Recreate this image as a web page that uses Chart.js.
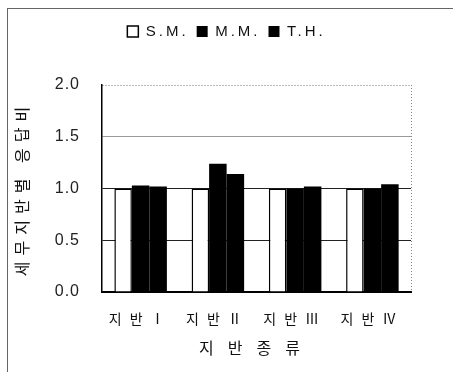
<!DOCTYPE html>
<html lang="ko">
<head>
<meta charset="utf-8">
<title>세무지반별 응답비</title>
<script src="https://cdn.jsdelivr.net/npm/chart.js@4/dist/chart.umd.min.js"></script>
<style>
  html, body { margin: 0; background: #fff; }
  .sheet { position: relative; width: 453px; height: 372px; overflow: hidden; }
  /* page frame: thin rule along top and left */
  .frame { position: absolute; left: 7px; top: 8px; right: -4px; bottom: -4px;
           border-top: 1px solid #666; border-left: 1px solid #666; }
  canvas { position: absolute; left: 0; top: 0; }
</style>
</head>
<body>
<div class="sheet">
  <div class="frame"></div>
  <canvas id="chart" width="453" height="372"></canvas>
</div>
<script>
// response ratio per site class, three methods
const categories = ['지반Ⅰ', '지반Ⅱ', '지반Ⅲ', '지반Ⅳ'];
const seriesNames = ['S.M.', 'M.M.', 'T.H.'];
const smValues = [1.00, 1.00, 1.00, 1.00];
const mmValues = [1.03, 1.24, 1.00, 1.00];
const thValues = [1.02, 1.14, 1.02, 1.04];
const yTicks = [0, 0.5, 1.0, 1.5, 2.0];

const KO = '"Noto Sans CJK KR", "Noto Sans", sans-serif';
const LATIN = '"Liberation Sans", Arial, sans-serif';
const LEGEND_GAP = 36;

// run a draw call with canvas letter spacing, then put it back
function spaced(ctx, px, draw) {
  const prev = ctx.letterSpacing;
  ctx.letterSpacing = px + 'px';
  draw();
  ctx.letterSpacing = prev;
}

const CategoryScale = Chart.registry.getScale('category');
const LinearScale = Chart.registry.getScale('linear');

class SpacedCategory extends CategoryScale {
  static id = 'spacedCategory';
  drawLabels(area) { spaced(this.ctx, 8, () => super.drawLabels(area)); }
  drawTitle() { spaced(this.ctx, 14, () => super.drawTitle()); }
}
class SpacedLinear extends LinearScale {
  static id = 'spacedLinear';
  drawLabels(area) { spaced(this.ctx, 1, () => super.drawLabels(area)); }
  drawTitle() { spaced(this.ctx, 6, () => super.drawTitle()); }
}
Chart.register(SpacedCategory, SpacedLinear);

// legend: wider letters and extra room under it
const legendLayout = {
  id: 'legendLayout',
  beforeInit(chart) {
    const fit = chart.legend.fit;
    chart.legend.fit = function () { fit.call(this); this.height += LEGEND_GAP; };
  },
  beforeLayout(chart) { chart.ctx.letterSpacing = '3px'; },
  beforeDraw(chart) { chart.ctx.letterSpacing = '3px'; },
};

function gridColor(c) {
  const v = c.tick ? c.tick.value : null;
  if (v === yTicks[0]) return 'transparent';
  if (v === 1.5) return '#9a9a9a';
  if (v === yTicks[yTicks.length - 1]) return '#777';
  return '#222';
}

new Chart(document.getElementById('chart'), {
  type: 'bar',
  data: {
    labels: categories,
    datasets: [
      { label: seriesNames[0], data: smValues, backgroundColor: '#fff', borderColor: '#000', borderWidth: 1.5 },
      { label: seriesNames[1], data: mmValues, backgroundColor: '#000', borderColor: '#000', borderWidth: 0 },
      { label: seriesNames[2], data: thValues, backgroundColor: '#000', borderColor: '#000', borderWidth: 0 },
    ],
  },
  options: {
    responsive: false,
    animation: false,
    categoryPercentage: 0.68,
    barPercentage: 1,
    layout: { padding: { top: 16, left: 0, right: 0, bottom: 0 } },
    plugins: {
      tooltip: { enabled: false },
      legend: {
        position: 'top',
        labels: { font: { family: LATIN, size: 15 }, color: '#111', boxWidth: 11, boxHeight: 11, padding: 8 },
      },
    },
    scales: {
      x: {
        type: 'spacedCategory',
        offset: true,
        ticks: { padding: 18, color: '#111', font: { family: KO, size: 14 }, maxRotation: 0, autoSkip: false },
        grid: { offset: true, drawTicks: false, lineWidth: 1, color: (c) => (c.type === 'tick' ? 'transparent' : '#888') },
        border: { color: '#000', width: 2, dash: (c) => (c.type === 'tick' ? [] : [1, 2]) },
        title: { display: true, text: '지반종류', color: '#111', font: { family: KO, size: 16 }, padding: { top: 0, bottom: 14 } },
        afterFit: (s) => { s.height = 80; },
      },
      y: {
        type: 'spacedLinear',
        min: yTicks[0],
        max: yTicks[yTicks.length - 1],
        ticks: { stepSize: yTicks[1] - yTicks[0], padding: 22, color: '#222', font: { family: LATIN, size: 16 }, callback: (v) => v.toFixed(1) },
        grid: { drawTicks: false, lineWidth: 1, color: gridColor },
        border: { color: '#000', width: 1.5, dash: (c) => (c.tick && c.tick.value === yTicks[yTicks.length - 1] ? [1, 2] : []) },
        title: { display: true, text: '세무지반별 응답비', color: '#111', font: { family: KO, size: 16 }, padding: { top: 12, bottom: 0 } },
        afterFit: (s) => { s.width = 102; },
      },
      // empty strip on the right so the legend stays centred on the page
      margin: {
        position: 'right',
        ticks: { display: false },
        grid: { display: false },
        border: { display: false },
        afterFit: (s) => { s.width = 42; },
      },
    },
  },
  plugins: [legendLayout],
});
</script>
</body>
</html>
